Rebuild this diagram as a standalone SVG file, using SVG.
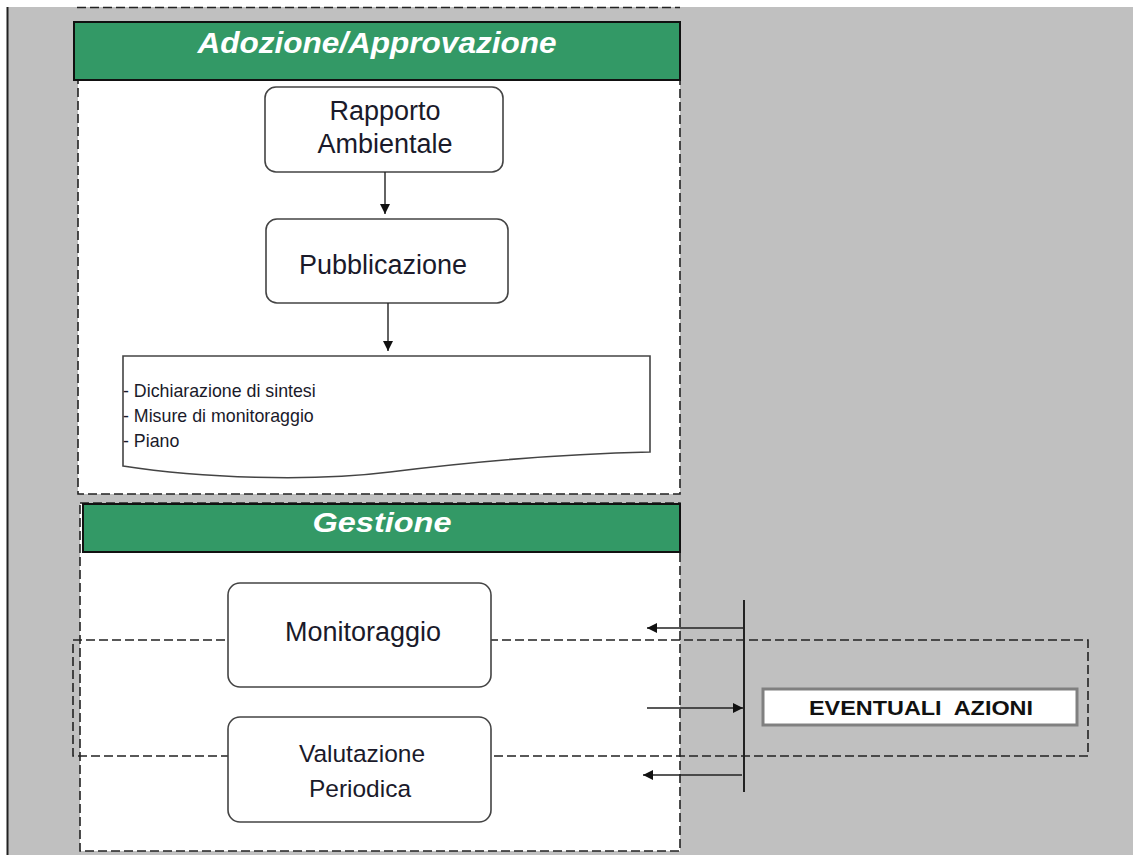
<svg xmlns="http://www.w3.org/2000/svg" width="1133" height="855" viewBox="0 0 1133 855">
  <defs>
    <marker id="arrow" viewBox="0 0 10 10" refX="10" refY="5" markerWidth="11" markerHeight="10" markerUnits="userSpaceOnUse" orient="auto">
      <path d="M0,0 L10,5 L0,10 z" fill="#111"/>
    </marker>
    <style>
      .dash { fill: none; stroke: #222; stroke-width: 1.6; stroke-dasharray: 9 4; }
      .panel { fill: #ffffff; stroke: #222; stroke-width: 1.6; stroke-dasharray: 9 4; }
      .header { fill: #339966; stroke: #111; stroke-width: 2; }
      .htext { font-family: "Liberation Sans", Arial, sans-serif; font-weight: bold; font-style: italic; fill: #ffffff; text-anchor: middle; }
      .box { fill: #ffffff; stroke: #444; stroke-width: 1.6; }
      .label { font-family: "Liberation Sans", Arial, sans-serif; font-size: 27px; fill: #1a1a2a; text-anchor: middle; }
      .small { font-size: 24.5px; }
      .list { font-family: "Liberation Sans", Arial, sans-serif; font-size: 17.8px; fill: #1a1a2a; }
      .conn { fill: none; stroke: #222; stroke-width: 1.4; }
    </style>
  </defs>

  <!-- page background -->
  <rect x="0" y="0" width="1133" height="855" fill="#ffffff"/>
  <rect x="8" y="7" width="1125" height="848" fill="#c0c0c0"/>
  <line x1="7.5" y1="7" x2="7.5" y2="855" stroke="#222" stroke-width="2"/>

  <!-- end of previous section -->
  <line class="dash" x1="77" y1="7.5" x2="680" y2="7.5"/>

  <!-- Adozione/Approvazione section -->
  <g id="sezione-adozione">
    <rect class="panel" x="78" y="80" width="602" height="414"/>
    <rect class="header" x="74" y="22" width="606" height="58"/>
    <text class="htext" x="377" y="53" font-size="30" textLength="359" lengthAdjust="spacingAndGlyphs">Adozione/Approvazione</text>
  </g>

  <!-- Gestione section -->
  <g id="sezione-gestione">
    <rect class="panel" x="80" y="503" width="600" height="348"/>
    <rect class="header" x="83" y="504" width="597" height="48"/>
    <text class="htext" x="382" y="532" font-size="28" textLength="139" lengthAdjust="spacingAndGlyphs">Gestione</text>
  </g>

  <!-- frame around the monitoring loop -->
  <rect id="ambito-azioni" class="dash" x="73" y="640" width="1015" height="116"/>

  <g id="rapporto-ambientale">
    <rect class="box" x="265" y="87" width="238" height="85" rx="11"/>
    <text class="label" x="385" y="120">Rapporto</text>
    <text class="label" x="385" y="153">Ambientale</text>
  </g>

  <g id="pubblicazione">
    <rect class="box" x="266" y="219" width="242" height="84" rx="11"/>
    <text class="label" x="383" y="274">Pubblicazione</text>
  </g>

  <g id="monitoraggio">
    <rect class="box" x="228" y="583" width="263" height="104" rx="12"/>
    <text class="label" x="363" y="641">Monitoraggio</text>
  </g>

  <g id="valutazione-periodica">
    <rect class="box" x="228" y="717" width="263" height="105" rx="12"/>
    <text class="label small" x="362" y="762">Valutazione</text>
    <text class="label small" x="360" y="797">Periodica</text>
  </g>

  <g id="documenti">
    <path class="box" d="M123,356 H650 V452 C560,454 470,462 390,472 C310,482 200,478 123,466 Z"/>
    <text class="list" x="123" y="397">- Dichiarazione di sintesi</text>
    <text class="list" x="123" y="422">- Misure di monitoraggio</text>
    <text class="list" x="123" y="447">- Piano</text>
  </g>

  <g id="eventuali-azioni">
    <rect x="763" y="689" width="314" height="36" fill="#ffffff" stroke="#808080" stroke-width="3"/>
    <text x="921" y="715" font-family="Liberation Sans, Arial, sans-serif" font-weight="bold" font-size="21" fill="#111" text-anchor="middle" textLength="224" lengthAdjust="spacingAndGlyphs" xml:space="preserve">EVENTUALI  AZIONI</text>
  </g>

  <!-- connectors -->
  <g id="connettori">
    <line class="conn" x1="385" y1="172" x2="385" y2="214" marker-end="url(#arrow)"/>
    <line class="conn" x1="388" y1="303" x2="388" y2="351" marker-end="url(#arrow)"/>
    <line x1="744" y1="600" x2="744" y2="792" stroke="#222" stroke-width="2"/>
    <line class="conn" x1="744" y1="628" x2="647" y2="628" marker-end="url(#arrow)"/>
    <line class="conn" x1="647" y1="708" x2="743" y2="708" marker-end="url(#arrow)"/>
    <line class="conn" x1="742" y1="775" x2="643" y2="775" marker-end="url(#arrow)"/>
  </g>
</svg>
